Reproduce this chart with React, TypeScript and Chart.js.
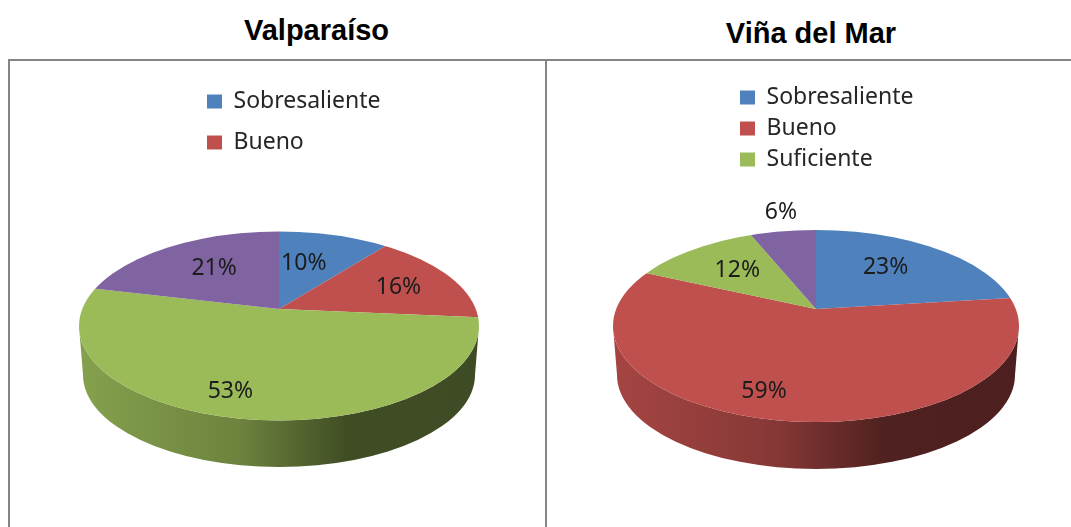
import React, { useEffect, useRef } from "react";
import { Chart, registerables } from "chart.js";

Chart.register(...registerables);

const categories = ["Sobresaliente", "Bueno", "Suficiente", "Insuficiente"];
const valparaisoValues = [10, 16, 53, 21];
const vinaValues = [23, 59, 12, 6];
const sliceColors = ["#4F81BD", "#C0504D", "#9BBB59", "#8064A2"];
const LABEL_FONT = '"Noto Sans", sans-serif';

type View = {
  title: string; titleX: number; titleY: number;
  values: number[];
  left: number; width: number;
  padding: { left: number; right: number; top: number; bottom: number };
  legendCount: number; legendX: number; legendY: number; legendGap: number;
  up: number; low: number; faceDy: number; faceRy: number;
  wallDy: number; wallRy: number; wallInset: number;
  nudges: number[][];
};

const views: View[] = [
  {
    title: "Valparaíso", titleX: 316.5, titleY: 30,
    values: valparaisoValues,
    left: 0, width: 546,
    padding: { left: 79, right: 67, top: 109, bottom: 18 },
    legendCount: 2, legendX: 207, legendY: 90, legendGap: 18,
    up: 0.43, low: 0.65, faceDy: 17, faceRy: 94.5,
    wallDy: 66, wallRy: 92, wallInset: 4,
    nudges: [[-16, 8], [0, 3], [-28, -2], [16, 4]],
  },
  {
    title: "Viña del Mar", titleX: 811, titleY: 33,
    values: vinaValues,
    left: 546, width: 525,
    padding: { left: 67, right: 52, top: 106, bottom: 15 },
    legendCount: 3, legendX: 740, legendY: 86, legendGap: 8,
    up: 0.45, low: 0.557, faceDy: 17, faceRy: 96,
    wallDy: 66, wallRy: 94, wallInset: 4,
    nudges: [[-19, 4], [-31, 9], [13, 5], [-10, -37]],
  },
];

function shade(hex: string, f: number) {
  const n = parseInt(hex.slice(1), 16);
  const c = [(n >> 16) & 255, (n >> 8) & 255, n & 255].map((v) => Math.round(v * f));
  return `rgb(${c[0]},${c[1]},${c[2]})`;
}

function makePlugin(view: View) {
  return {
    id: "tiltedPie",
    afterLayout(chart: any) {
      const lg = chart.legend;
      const pad = view.legendGap;
      lg.left = view.legendX - view.left - pad;
      lg.right = lg.left + 320;
      lg.top = view.legendY - pad;
      lg.bottom = lg.top + 180;
    },
    beforeDatasetDraw(chart: any) {
      const ctx = chart.ctx;
      const arcs = chart.getDatasetMeta(0).data;
      const { x: cx, y: apex, outerRadius: R } = arcs[0];
      const ey = apex + view.faceDy;
      const rw = R - view.wallInset;
      const wy = apex + view.wallDy;

      // side wall
      arcs.forEach((arc: any, i: number) => {
        const lo = Math.max(arc.startAngle, 0);
        const hi = Math.min(arc.endAngle, Math.PI);
        if (hi <= lo) return;
        const base = sliceColors[i];
        const x0 = cx + R * Math.cos(hi);
        const x1 = cx + R * Math.cos(lo);
        const g = ctx.createLinearGradient(cx - R, 0, cx + R, 0);
        g.addColorStop(0, shade(base, 0.86));
        g.addColorStop(0.4, shade(base, 0.7));
        g.addColorStop(0.67, shade(base, 0.41));
        g.addColorStop(1, shade(base, 0.4));
        ctx.save();
        ctx.beginPath();
        ctx.rect(x0, 0, x1 - x0, chart.height);
        ctx.clip();
        ctx.beginPath();
        ctx.ellipse(cx, ey, R, view.faceRy, 0, Math.PI, 0, true);
        ctx.lineTo(cx + rw, wy);
        ctx.ellipse(cx, wy, rw, view.wallRy, 0, 0, Math.PI, false);
        ctx.closePath();
        ctx.fillStyle = g;
        ctx.fill();
        ctx.restore();
      });

      // top face: the library's arcs, squashed, cut to the rim ellipse
      const over = 1.1;
      [
        { k: view.up, y: 0, h: apex },
        { k: view.low, y: apex, h: chart.height - apex },
      ].forEach((half) => {
        ctx.save();
        ctx.beginPath();
        ctx.ellipse(cx, ey, R, view.faceRy, 0, 0, Math.PI * 2);
        ctx.clip();
        ctx.beginPath();
        ctx.rect(0, Math.round(half.y), chart.width, Math.round(half.h));
        ctx.clip();
        ctx.translate(cx, apex);
        ctx.scale(over, over * half.k);
        ctx.translate(-cx, -apex);
        arcs.forEach((arc: any) => arc.draw(ctx));
        ctx.restore();
      });
      return false;
    },
    afterDatasetsDraw(chart: any) {
      const ctx = chart.ctx;
      const arcs = chart.getDatasetMeta(0).data;
      ctx.save();
      ctx.font = `23px ${LABEL_FONT}`;
      ctx.fillStyle = "#1c1c1c";
      ctx.textAlign = "center";
      ctx.textBaseline = "middle";
      arcs.forEach((arc: any, i: number) => {
        const mid = (arc.startAngle + arc.endAngle) / 2;
        const s = Math.cos(mid);
        const c = -Math.sin(mid);
        const ry = arc.outerRadius * (c > 0 ? view.up : view.low);
        const px = arc.x + s * arc.outerRadius * 0.66 + view.nudges[i][0];
        const py = arc.y - c * ry * 0.66 + view.nudges[i][1];
        ctx.fillText(`${view.values[i]}%`, px, py);
      });
      ctx.restore();
    },
  };
}

function PieCanvas({ view }: { view: View }) {
  const ref = useRef<HTMLCanvasElement>(null);
  useEffect(() => {
    const chart = new Chart(ref.current as HTMLCanvasElement, {
      type: "pie",
      data: {
        labels: categories,
        datasets: [{ data: view.values, backgroundColor: sliceColors, borderWidth: 0 }],
      },
      plugins: [makePlugin(view)],
      options: {
        animation: false,
        responsive: false,
        layout: { padding: view.padding },
        plugins: {
          tooltip: { enabled: false },
          legend: {
            position: "chartArea",
            align: "start",
            labels: {
              boxWidth: 15,
              boxHeight: 14,
              padding: view.legendGap,
              color: "#262626",
              font: { family: LABEL_FONT, size: 23 },
              filter: (item: any) => item.index < view.legendCount,
            },
          },
        },
      },
    } as any);
    return () => chart.destroy();
  }, [view]);
  return (
    <canvas
      ref={ref}
      width={view.width}
      height={527}
      style={{ position: "absolute", left: view.left, top: 0, width: view.width, height: 527 }}
    />
  );
}

const line = (left: number, top: number, width: number, height: number) => (
  <div style={{ position: "absolute", left, top, width, height, background: "#858585" }} />
);

export default function App() {
  return (
    <div style={{ position: "absolute", left: 0, top: 0, width: 1071, height: 527, overflow: "hidden", background: "#fff" }}>
      {line(8, 59, 1063, 2)}
      {line(8, 59, 2, 468)}
      {line(545, 59, 2, 468)}
      {views.map((v) => (
        <div
          key={v.title}
          style={{
            position: "absolute", left: v.titleX - 150, width: 300, top: v.titleY - 20, height: 40,
            lineHeight: "40px", textAlign: "center", color: "#000",
            fontFamily: '"Liberation Sans", Arial, sans-serif', fontWeight: 700, fontSize: 29,
          }}
        >
          {v.title}
        </div>
      ))}
      {views.map((v) => (
        <PieCanvas key={v.title} view={v} />
      ))}
    </div>
  );
}
